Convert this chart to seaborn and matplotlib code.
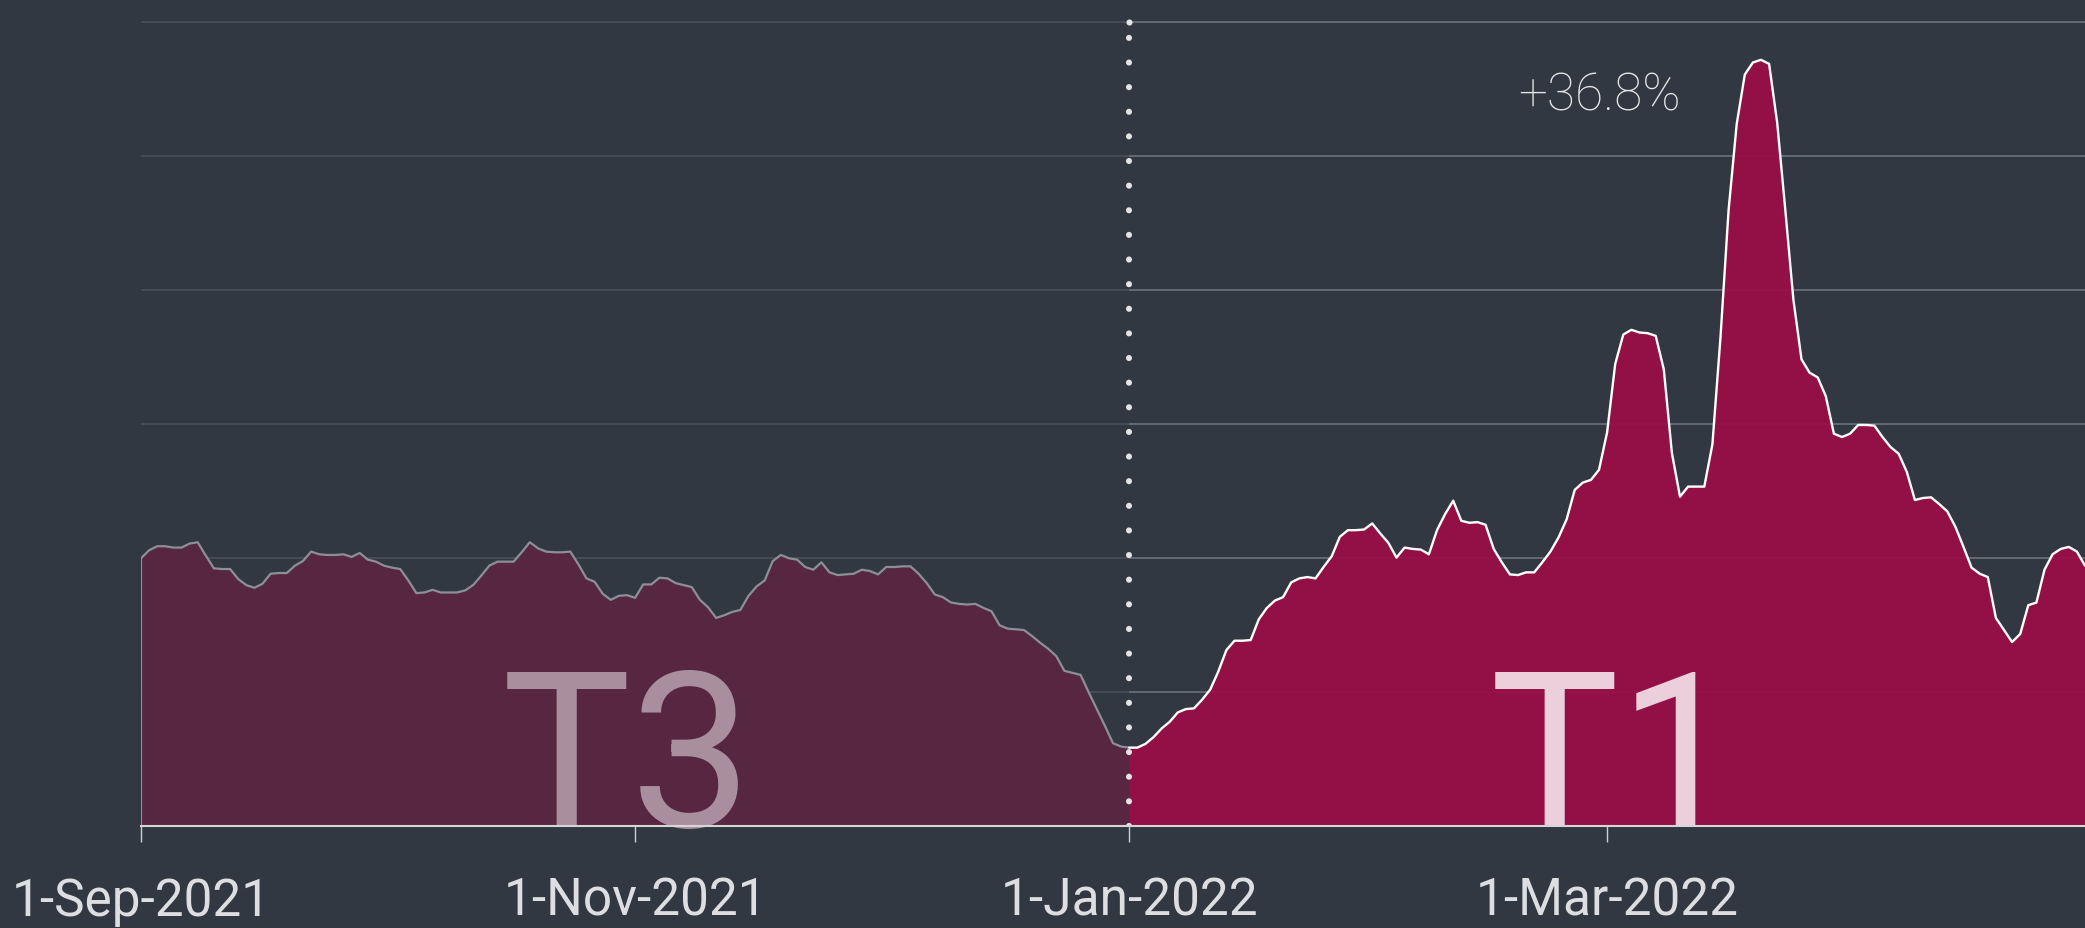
import matplotlib
matplotlib.use("Agg")
import matplotlib.pyplot as plt
import matplotlib.dates as mdates
import numpy as np
import pandas as pd
import seaborn as sns

# ---------------- data (daily values) ----------------
start_date = "2021-09-01"
split_date = "2022-01-01"
values = [
    20.0, 20.6, 20.9, 20.9, 20.8, 20.8, 21.1, 21.2, 20.2, 19.25,
    19.2, 19.2, 18.45, 18.0, 17.8, 18.1, 18.85, 18.9, 18.9, 19.45,
    19.8, 20.5, 20.3, 20.25, 20.25, 20.3, 20.1, 20.4, 19.9, 19.75,
    19.45, 19.3, 19.2, 18.35, 17.4, 17.45, 17.65, 17.45, 17.45, 17.45,
    17.6, 18.0, 18.7, 19.45, 19.75, 19.75, 19.75, 20.45, 21.2, 20.75,
    20.5, 20.45, 20.45, 20.5, 19.55, 18.5, 18.25, 17.35, 16.9, 17.2,
    17.25, 17.05, 18.05, 18.05, 18.55, 18.5, 18.15, 18.0, 17.85, 16.9,
    16.35, 15.55, 15.75, 16.0, 16.15, 17.2, 17.9, 18.35, 19.8, 20.25,
    20.0, 19.9, 19.35, 19.15, 19.7, 18.95, 18.75, 18.8, 18.85, 19.15,
    19.05, 18.8, 19.35, 19.35, 19.4, 19.4, 18.85, 18.15, 17.3, 17.1,
    16.7, 16.6, 16.55, 16.6, 16.3, 16.05, 15.0, 14.75, 14.7, 14.65,
    14.2, 13.7, 13.25, 12.7, 11.6, 11.45, 11.3, 10.0, 8.75, 7.5,
    6.2, 5.95, 5.87, 5.87, 6.15, 6.65, 7.3, 7.8, 8.5, 8.75,
    8.8, 9.45, 10.2, 11.55, 13.15, 13.85, 13.85, 13.9, 15.45, 16.3,
    16.85, 17.1, 18.2, 18.5, 18.6, 18.5, 19.35, 20.15, 21.6, 22.1,
    22.1, 22.15, 22.6, 21.85, 21.15, 20.05, 20.8, 20.7, 20.65, 20.3,
    22.1, 23.3, 24.3, 22.8, 22.65, 22.7, 22.5, 20.7, 19.7, 18.8,
    18.75, 18.95, 18.95, 19.7, 20.5, 21.55, 22.9, 25.1, 25.65, 25.85,
    26.6, 29.4, 34.5, 36.7, 37.05, 36.85, 36.8, 36.6, 34.1, 27.85,
    24.6, 25.35, 25.35, 25.35, 28.5, 36.5, 46.0, 52.4, 56.1, 57.0,
    57.2, 56.9, 52.5, 46.0, 39.3, 34.85, 33.85, 33.5, 32.1, 29.3,
    29.05, 29.3, 29.95, 29.95, 29.9, 29.05, 28.3, 27.8, 26.45, 24.35,
    24.5, 24.55, 24.05, 23.5, 22.35, 20.85, 19.3, 18.85, 18.6, 15.55,
    14.65, 13.75, 14.35, 16.5, 16.7, 19.15, 20.3, 20.7, 20.85, 20.5,
    19.45,
]
quarter_labels = ["T3", "T1"]
quarter_label_dates = ["2021-10-31", "2022-03-02"]
peak_label = "+36.8%"
peak_label_date = "2022-02-28"
peak_label_value = 53.5
tick_dates = ["2021-09-01", "2021-11-01", "2022-01-01", "2022-03-01"]
grid_values = [0, 10, 20, 30, 40, 50, 60]

# ---------------- style ----------------
BG = "#313842"
T3_FILL = "#5a2642"
T3_LINE = "#8b9097"
T1_FILL = "#9a0e48"
T1_LINE = "#ffffff"

sns.set_theme(style="dark", rc={"axes.facecolor": BG, "figure.facecolor": BG})
plt.rcParams["font.family"] = ["Roboto", "DejaVu Sans"]

dates = pd.date_range(start_date, periods=len(values), freq="D")
df = pd.DataFrame({"date": dates, "value": values})
split = pd.Timestamp(split_date)
t3 = df[df["date"] <= split]
t1 = df[df["date"] >= split]

W, H = 2085, 929
fig = plt.figure(figsize=(W / 100, H / 100), dpi=100)
left_px, base_px = 141, 827.3
ax = fig.add_axes([left_px / W, 1 - base_px / H, 1 - left_px / W, base_px / H])
ax.set_facecolor(BG)

x0 = dates[0]
x1 = dates[0] + pd.Timedelta(days=240)
ax.set_xlim(x0, x1)
ax.set_ylim(0, base_px / 13.4)

# gridlines: darker before split, lighter after
for g in grid_values[1:]:
    ax.plot([x0, split], [g, g], color="#454c56", lw=1.4, zorder=0.5, solid_capstyle="butt")
    ax.plot([split, x1], [g, g], color="#646a73", lw=1.4, zorder=0.5, solid_capstyle="butt")

# fills
ax.fill_between(t3["date"], 0, t3["value"], color=T3_FILL, alpha=0.94, lw=0, zorder=1)
ax.fill_between(t1["date"], 0, t1["value"], color=T1_FILL, alpha=0.94, lw=0, zorder=1)

# lines
sns.lineplot(data=t3, x="date", y="value", ax=ax, color=T3_LINE, lw=1.6, zorder=2)
sns.lineplot(data=t1, x="date", y="value", ax=ax, color=T1_LINE, lw=1.7, zorder=2)
ax.plot([t3["date"].iloc[0]] * 2, [0, t3["value"].iloc[0]], color=T3_LINE, lw=1.6, zorder=2)

# dotted separator (dots every ~24.6 px, plus one at the top end)
ax.plot([split, split], [0, grid_values[-1]], color="#e4e4e4", lw=4.4,
        linestyle=(0, (0.01, 4.02)), dash_capstyle="round", zorder=3)
ax.plot([split], [grid_values[-1]], "o", color="#e4e4e4", ms=4.4, mew=0, zorder=3)

# quarter labels
ax.text(pd.Timestamp(quarter_label_dates[0]), 0, quarter_labels[0], color="#a98f9e",
        fontsize=156, fontweight="normal", ha="center", va="baseline", zorder=1.5)
ax.text(pd.Timestamp(quarter_label_dates[1]), 0, quarter_labels[1], color="#ebd0db",
        fontsize=156, fontweight="normal", ha="center", va="baseline", zorder=1.5)

# peak label
ax.text(pd.Timestamp(peak_label_date), peak_label_value, peak_label, color="#e6e6e6",
        fontsize=37, fontweight="light", ha="center", va="baseline", zorder=4)

# axes styling
for s in ["left", "right", "top"]:
    ax.spines[s].set_visible(False)
ax.spines["bottom"].set_color("#d6d6d6")
ax.spines["bottom"].set_linewidth(1.5)
ax.spines["bottom"].set_zorder(5)
ax.set_yticks([])
ax.set_xlabel("")
ax.set_ylabel("")
ax.set_xticks([pd.Timestamp(d) for d in tick_dates])
ax.xaxis.set_major_formatter(mdates.DateFormatter("%-d-%b-%Y"))
ax.tick_params(axis="x", bottom=True, length=11.5, width=1, color="#cfcfcf",
               labelsize=37, labelcolor="#dcdee1", pad=24)
ax.grid(False)

fig.savefig("out.png", dpi=100, facecolor=BG)
